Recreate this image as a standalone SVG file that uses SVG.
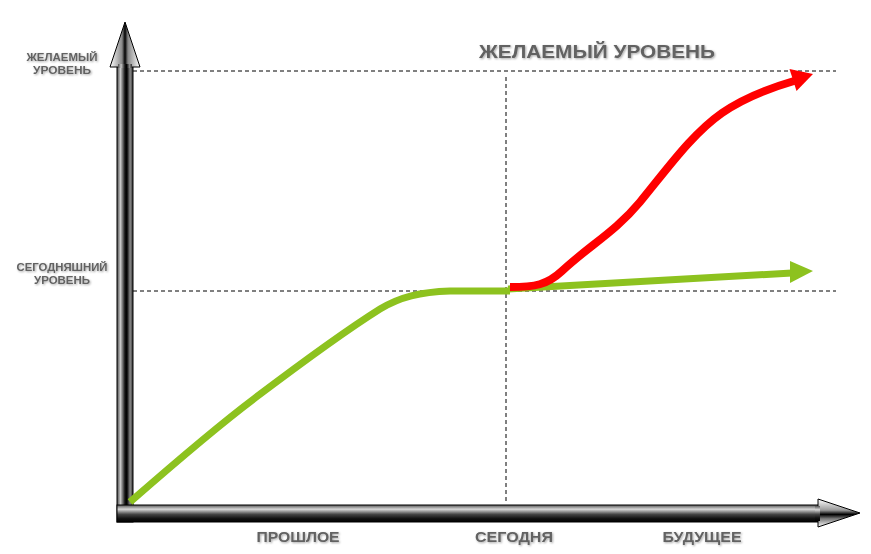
<svg xmlns="http://www.w3.org/2000/svg" width="871" height="554" viewBox="0 0 871 554">
<defs>
<linearGradient id="gv" x1="0" y1="0" x2="1" y2="0">
<stop offset="0" stop-color="#4a4a4a"/><stop offset="0.22" stop-color="#c8c8c8"/><stop offset="0.5" stop-color="#111"/><stop offset="0.62" stop-color="#000"/><stop offset="0.82" stop-color="#8a8a8a"/><stop offset="1" stop-color="#333"/>
</linearGradient>
<linearGradient id="gh" x1="0" y1="0" x2="0" y2="1">
<stop offset="0" stop-color="#555"/><stop offset="0.25" stop-color="#d8d8d8"/><stop offset="0.55" stop-color="#444"/><stop offset="0.8" stop-color="#111"/><stop offset="1" stop-color="#000"/>
</linearGradient>
<linearGradient id="ghv" gradientUnits="userSpaceOnUse" x1="110" y1="0" x2="140" y2="0">
<stop offset="0" stop-color="#fff"/><stop offset="0.4" stop-color="#888"/><stop offset="0.5" stop-color="#000"/><stop offset="0.6" stop-color="#888"/><stop offset="1" stop-color="#fff"/>
</linearGradient>
<linearGradient id="ghh" gradientUnits="userSpaceOnUse" x1="0" y1="499" x2="0" y2="527">
<stop offset="0" stop-color="#fff"/><stop offset="0.4" stop-color="#999"/><stop offset="0.55" stop-color="#000"/><stop offset="0.7" stop-color="#777"/><stop offset="1" stop-color="#fff"/>
</linearGradient>
<filter id="sh" x="-10%" y="-30%" width="120%" height="160%">
<feDropShadow dx="1" dy="1" stdDeviation="0.8" flood-color="#000" flood-opacity="0.35"/>
</filter>
</defs>
<style>
.lbl{font-family:"Liberation Sans",Arial,sans-serif;font-weight:bold;fill:#626262;text-anchor:middle;filter:url(#sh)}
.dash{stroke:#000;stroke-width:1;stroke-dasharray:4,3;fill:none}
.ax{stroke:#000;stroke-width:1}
</style>
<g id="guides">
<line class="dash" x1="133" y1="71" x2="836" y2="71"/>
<line class="dash" x1="133" y1="291" x2="836" y2="291"/>
<line class="dash" x1="506" y1="77" x2="506" y2="504"/>
</g>
<g id="y-axis">
<rect class="ax" x="117" y="66" width="16" height="456" fill="url(#gv)"/>
<polygon class="ax" points="110,67 125,22 140,67" fill="url(#ghv)"/>
<rect x="118" y="64" width="14" height="4" fill="url(#gv)"/>
</g>
<g id="x-axis">
<rect class="ax" x="117" y="505" width="702" height="17" fill="url(#gh)"/>
<polygon class="ax" points="818,499 860,513 818,527" fill="url(#ghh)"/>
<rect x="815" y="506" width="5" height="15" fill="url(#gh)"/>
</g>
<g id="connectors">
<g id="green-curve">
<path d="M130,502 C170,467 215,428 255,398 C300,364 345,331 380,309 C400,297 420,292 450,291 L510,291" fill="none" stroke="#8dc21f" stroke-width="7" stroke-linecap="butt"/>
<line x1="508" y1="289" x2="792" y2="273" stroke="#8dc21f" stroke-width="7"/>
<polygon points="790,261 813,271 790,283" fill="#8dc21f"/>
</g>
<g id="red-curve">
<path d="M510,287 C535,287 547,285 562,271 C590,245 615,232 640,202 C668,168 692,134 722,113 C745,97 770,88 794,81" fill="none" stroke="#ff0000" stroke-width="8"/>
<polygon points="813,74 789.5,69 796.5,91" fill="#ff0000"/>
</g>
</g>
<g id="labels">
<text class="lbl" x="597" y="58" font-size="18" textLength="236" lengthAdjust="spacingAndGlyphs">ЖЕЛАЕМЫЙ УРОВЕНЬ</text>
<text class="lbl" x="62" y="61" font-size="11" textLength="71" lengthAdjust="spacingAndGlyphs">ЖЕЛАЕМЫЙ</text>
<text class="lbl" x="62" y="74" font-size="11" textLength="58" lengthAdjust="spacingAndGlyphs">УРОВЕНЬ</text>
<text class="lbl" x="62" y="271" font-size="11" textLength="91" lengthAdjust="spacingAndGlyphs">СЕГОДНЯШНИЙ</text>
<text class="lbl" x="62" y="284" font-size="11" textLength="56" lengthAdjust="spacingAndGlyphs">УРОВЕНЬ</text>
<text class="lbl" x="298" y="542" font-size="15" textLength="83" lengthAdjust="spacingAndGlyphs">ПРОШЛОЕ</text>
<text class="lbl" x="514" y="542" font-size="15" textLength="78" lengthAdjust="spacingAndGlyphs">СЕГОДНЯ</text>
<text class="lbl" x="702" y="542" font-size="15" textLength="79" lengthAdjust="spacingAndGlyphs">БУДУЩЕЕ</text>
</g>
</svg>
